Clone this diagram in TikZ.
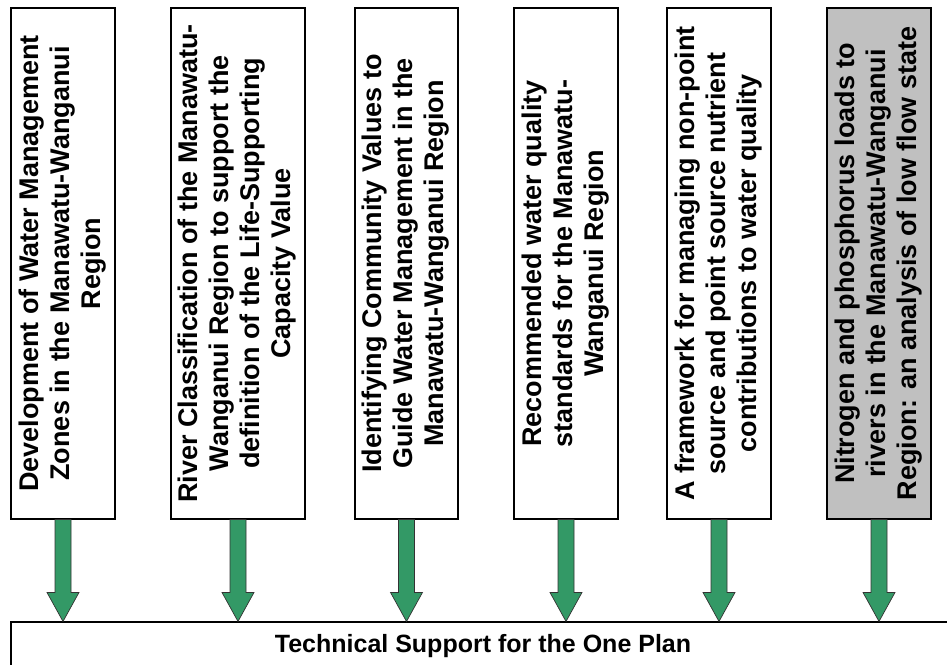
\documentclass[tikz,border=0pt]{standalone}
\usepackage{fontspec}
\setmainfont{Liberation Sans}
\usepackage{graphicx}
\usetikzlibrary{calc}
\definecolor{flowgreen}{RGB}{51,153,102}
\definecolor{reportgray}{RGB}{192,192,192}
\newcommand{\vtext}[1]{\rotatebox{90}{\begin{tabular}{@{}c@{}}#1\end{tabular}}}
\begin{document}
\begin{tikzpicture}[x=1pt,y=1pt]
\def\boxtop{656}
\def\boxbot{145}
\tikzstyle{report}=[draw,line width=1.1pt,fill=white,inner sep=0pt,minimum height=511pt,font=\fontsize{27}{31}\selectfont\bfseries]
\tikzstyle{plan}=[draw,line width=1.1pt,fill=white,inner sep=0pt,font=\fontsize{25}{29}\selectfont\bfseries]
\tikzstyle{flowarrow}=[fill=flowgreen,draw=black!80,line width=0.7pt]
\def\flow#1#2{\path let \p1=(#1.south), \p2=(#2.north) in
  [flowarrow] (\x1-8pt,\y1) -- (\x1-8pt,\y2+29pt) -- (\x1-16pt,\y2+29pt) -- (\x1,\y2)
  -- (\x1+16pt,\y2+29pt) -- (\x1+8pt,\y2+29pt) -- (\x1+8pt,\y1) -- cycle;}
\useasboundingbox (0,0) rectangle (947,664);

% Rapports
\node[report,minimum width=104pt] (zones) at (63,400.5)
  {\vtext{Development of Water Management\\Zones in the Manawatu-Wanganui\\Region}};
\node[report,minimum width=134pt] (rivers) at (238,400.5)
  {\vtext{River Classification of the Manawatu-\\Wanganui Region to support the\\definition of the Life-Supporting\\Capacity Value}};
\node[report,minimum width=103pt] (values) at (406.5,400.5)
  {\vtext{Identifying Community Values to\\Guide Water Management in the\\Manawatu-Wanganui Region}};
\node[report,minimum width=104pt] (standards) at (566,400.5)
  {\vtext{Recommended water quality\\standards for the Manawatu-\\Wanganui Region}};
\node[report,minimum width=104pt] (framework) at (719,400.5)
  {\vtext{A framework for managing non-point\\source and point source nutrient\\contributions to water quality}};
\node[report,fill=reportgray,minimum width=104pt] (loads) at (879,400.5)
  {\vtext{Nitrogen and phosphorus loads to\\rivers in the Manawatu-Wanganui\\Region: an analysis of low flow state}};

% One Plan
\node[plan,minimum width=944pt,minimum height=48pt] (oneplan) at (483,18)
  {Technical Support for the One Plan};

% Fleches
\flow{zones}{oneplan}
\flow{rivers}{oneplan}
\flow{values}{oneplan}
\flow{standards}{oneplan}
\flow{framework}{oneplan}
\flow{loads}{oneplan}

\end{tikzpicture}
\end{document}
